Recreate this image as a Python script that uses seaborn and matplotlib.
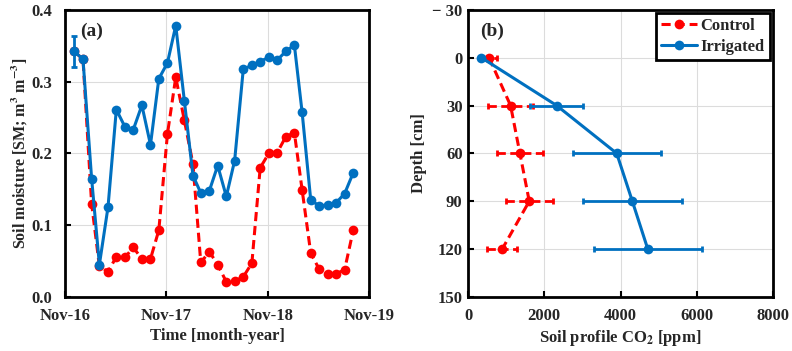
import matplotlib.dates as mdates
import matplotlib.pyplot as plt
import pandas as pd
import seaborn as sns

# panel (a): monthly soil moisture, Dec-16 .. Sep-19
month_labels = [
    "2016-12", "2017-01", "2017-02", "2017-03", "2017-04", "2017-05", "2017-06",
    "2017-07", "2017-08", "2017-09", "2017-10", "2017-11", "2017-12", "2018-01",
    "2018-02", "2018-03", "2018-04", "2018-05", "2018-06", "2018-07", "2018-08",
    "2018-09", "2018-10", "2018-11", "2018-12", "2019-01", "2019-02", "2019-03",
    "2019-04", "2019-05", "2019-06", "2019-07", "2019-08", "2019-09",
]
sm_control = [
    0.342, 0.331, 0.130, 0.043, 0.035, 0.056, 0.055, 0.069, 0.053, 0.053, 0.093, 0.227,
    0.306, 0.246, 0.185, 0.048, 0.063, 0.045, 0.021, 0.022, 0.028, 0.047, 0.180, 0.200,
    0.201, 0.223, 0.229, 0.149, 0.061, 0.039, 0.032, 0.032, 0.038, 0.093,
]
sm_irrigated = [
    0.342, 0.331, 0.165, 0.045, 0.125, 0.261, 0.237, 0.233, 0.267, 0.212, 0.304, 0.326,
    0.378, 0.273, 0.169, 0.145, 0.148, 0.183, 0.140, 0.190, 0.317, 0.323, 0.328, 0.334,
    0.330, 0.342, 0.351, 0.257, 0.135, 0.127, 0.128, 0.131, 0.144, 0.173,
]
sm_irrigated_err_first = 0.022

# panel (b): soil profile CO2 by depth
depths = [0, 30, 60, 90, 120]
co2_control = [550, 1115, 1360, 1605, 895]
co2_control_err = [200, 580, 600, 615, 395]
co2_irrigated = [350, 2325, 3900, 4310, 4715]
co2_irrigated_err = [0, 700, 1155, 1295, 1420]

RED = "#FF0000"
BLUE = "#0070C0"

sns.set_theme(style="whitegrid")
plt.rcParams["font.family"] = ["Liberation Serif", "DejaVu Serif"]
plt.rcParams["font.weight"] = "bold"
plt.rcParams["axes.labelweight"] = "bold"
plt.rcParams["mathtext.fontset"] = "stix"

dates = pd.to_datetime(month_labels) + pd.Timedelta(days=4)
df_a = pd.DataFrame({"date": dates, "control": sm_control, "irrigated": sm_irrigated})

fig = plt.figure(figsize=(7.92, 3.51), dpi=100)
ax1 = fig.add_axes([0.082, 0.154, 0.384, 0.818])
ax2 = fig.add_axes([0.591, 0.154, 0.385, 0.818])

line_kw = dict(marker="o", markersize=7, markeredgewidth=0, linewidth=2.2)
DASH = (0, (3, 1.6))

sns.lineplot(data=df_a, x="date", y="control", color=RED, linestyle=DASH, ax=ax1, **line_kw)
sns.lineplot(data=df_a, x="date", y="irrigated", color=BLUE, ax=ax1, **line_kw)
ax1.errorbar(dates[:1], sm_irrigated[:1], yerr=sm_irrigated_err_first, fmt="none",
             ecolor=BLUE, elinewidth=2, capsize=2, capthick=2)

ax1.set_xlim(pd.Timestamp("2016-11-01"), pd.Timestamp("2019-11-01"))
ax1.set_xticks(pd.to_datetime(["2016-11-01", "2017-11-01", "2018-11-01", "2019-11-01"]))
ax1.xaxis.set_major_formatter(mdates.DateFormatter("%b-%y"))
ax1.set_ylim(0, 0.4)
ax1.set_yticks([0.0, 0.1, 0.2, 0.3, 0.4])
ax1.set_yticklabels(["0.0", "0.1", "0.2", "0.3", "0.4"])
ax1.set_xlabel("Time [month-year]", fontsize=12, labelpad=3)
ax1.set_ylabel(r"Soil moisture [SM; m$^\mathbf{3}$ m$^\mathbf{-3}$]", fontsize=11.5,
               labelpad=1)
ax1.text(0.05, 0.955, "(a)", transform=ax1.transAxes, fontsize=14, fontweight="bold",
         va="top", ha="left")

df_b = pd.DataFrame({"depth": depths, "control": co2_control, "irrigated": co2_irrigated})
sns.lineplot(data=df_b, x="control", y="depth", orient="y", color=RED,
             linestyle=DASH, label="Control", ax=ax2, **line_kw)
eb = ax2.errorbar(co2_control, depths, xerr=co2_control_err, fmt="none", ecolor=RED,
                  elinewidth=2, capsize=2, capthick=2)
eb[2][0].set_linestyle((0, (3, 1.6)))
sns.lineplot(data=df_b, x="irrigated", y="depth", orient="y", color=BLUE,
             label="Irrigated", ax=ax2, **line_kw)
ax2.errorbar(co2_irrigated, depths, xerr=co2_irrigated_err, fmt="none", ecolor=BLUE,
             elinewidth=2, capsize=2, capthick=2)

ax2.set_xlim(0, 8000)
ax2.set_xticks([0, 2000, 4000, 6000, 8000])
ax2.set_ylim(150, -30)
ax2.set_yticks([-30, 0, 30, 60, 90, 120, 150])
ax2.set_yticklabels(["\u2212 30", "0", "30", "60", "90", "120", "150"])
ax2.set_xlabel(r"Soil profile CO$_\mathbf{2}$ [ppm]", fontsize=12, labelpad=3)
ax2.set_ylabel("Depth [cm]", fontsize=12)
ax2.text(0.04, 0.955, "(b)", transform=ax2.transAxes, fontsize=14, fontweight="bold",
         va="top", ha="left")

leg = ax2.legend(loc="upper right", frameon=True, fancybox=False, handlelength=2.2,
                 handletextpad=0.2, borderpad=0.3, labelspacing=0.3,
                 prop={"family": "Liberation Serif", "weight": "bold", "size": 12},
                 borderaxespad=0.2)
leg.get_frame().set_edgecolor("black")
leg.get_frame().set_linewidth(2)
leg.get_frame().set_alpha(1)

for ax in (ax1, ax2):
    ax.grid(True, color="#dcdcdc", linewidth=0.8)
    for spine in ax.spines.values():
        spine.set_edgecolor("black")
        spine.set_linewidth(2)
    ax.tick_params(direction="in", length=4, width=1.5, color="black", labelsize=12,
                   left=True, bottom=True)
    ax.tick_params(axis="x", pad=8)
    for lab in ax.get_xticklabels() + ax.get_yticklabels():
        lab.set_fontweight("bold")
ax1.tick_params(axis="y", pad=9)
ax2.tick_params(axis="y", pad=4)

fig.savefig("out.png", dpi=100)
